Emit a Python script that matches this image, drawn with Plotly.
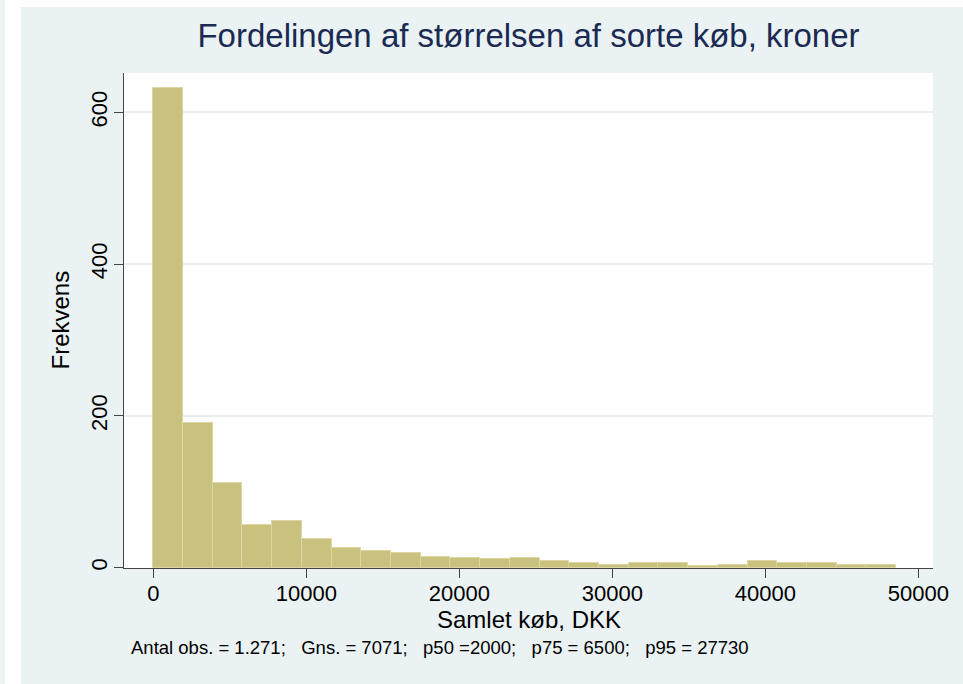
import plotly.graph_objects as go

# Histogram of purchase sizes (DKK), 25 bins
bin_start = 0
bin_width = 1942
counts = [632, 191, 111, 56, 61, 38, 26, 22, 19, 14, 13, 11, 13,
          9, 6, 4, 6, 6, 2, 4, 9, 6, 6, 3, 3]
x_ticks = [0, 10000, 20000, 30000, 40000, 50000]
y_ticks = [0, 200, 400, 600]

title_text = "Fordelingen af størrelsen af sorte køb, kroner"
x_title = "Samlet køb, DKK"
y_title = "Frekvens"
note = "Antal obs. = 1.271;   Gns. = 7071;   p50 =2000;   p75 = 6500;   p95 = 27730"

bin_left = [bin_start + i * bin_width for i in range(len(counts))]

PANEL = "#EAF2F3"
FONT = "Liberation Sans, Arial, sans-serif"
# plot area in pixels: x 124..933, y 73..568.5
PW, PH = 809, 495.5


def px_x(x):
    return (x - 124) / PW


def px_y(y):
    return (568.5 - y) / PH


fig = go.Figure(go.Bar(
    x=bin_left,
    y=counts,
    width=bin_width,
    offset=0,
    marker=dict(color="#C9C27F", line=dict(color="#DCD7A2", width=1)),
))

fig.update_layout(
    width=963,
    height=684,
    margin=dict(l=124, r=30, t=73, b=115.5, autoexpand=False),
    paper_bgcolor=PANEL,
    plot_bgcolor="white",
    showlegend=False,
    bargap=0,
    font=dict(family=FONT, color="black"),
    title=dict(
        text=title_text,
        x=0.5, xref="paper", xanchor="center",
        y=1 - 35 / 684, yref="container", yanchor="middle",
        font=dict(size=33, color="#1B2A52"),
    ),
    # white page strips around the Stata panel
    shapes=[
        dict(type="rect", xref="paper", yref="paper", layer="below",
             x0=px_x(5), x1=px_x(21), y0=-0.3, y1=1.2,
             fillcolor="white", line=dict(width=0)),
        dict(type="rect", xref="paper", yref="paper", layer="below",
             x0=px_x(21), x1=1.1, y0=px_y(7), y1=1.2,
             fillcolor="white", line=dict(width=0)),
    ],
    annotations=[
        dict(text=note.replace(" ", "\u00a0"),
             xref="paper", yref="paper", x=px_x(129), y=px_y(648),
             xanchor="left", yanchor="middle", showarrow=False,
             font=dict(size=18.5, color="black")),
        dict(text=x_title, xref="paper", yref="paper",
             x=0.5, y=px_y(620), xanchor="center", yanchor="middle",
             showarrow=False, font=dict(size=24, color="black")),
        dict(text=y_title, xref="paper", yref="paper", textangle=-90,
             x=px_x(60), y=0.5, xanchor="center", yanchor="middle",
             showarrow=False, font=dict(size=24, color="black")),
    ],
)

fig.update_xaxes(
    range=[-1915, 50960],
    tickvals=x_ticks,
    tickformat="d",
    showgrid=False,
    zeroline=False,
    automargin=False,
    showline=True, linecolor="#444", linewidth=1,
    ticks="outside", ticklen=9, tickcolor="#444",
    tickfont=dict(size=22),
    ticklabelstandoff=-3,
)
fig.update_yaxes(
    range=[-0.5, 652],
    tickvals=y_ticks,
    tickformat="d",
    tickangle=-90,
    automargin=False,
    showgrid=True, gridcolor="#E6EEF0", gridwidth=1.5,
    zeroline=False,
    showline=True, linecolor="#444", linewidth=1,
    ticks="outside", ticklen=9, tickcolor="#444",
    tickfont=dict(size=22),
    ticklabelstandoff=-2,
)

fig.write_html(
    "out.html",
    config={"displayModeBar": False},
    post_script="document.body.style.margin = '0px';",
)
